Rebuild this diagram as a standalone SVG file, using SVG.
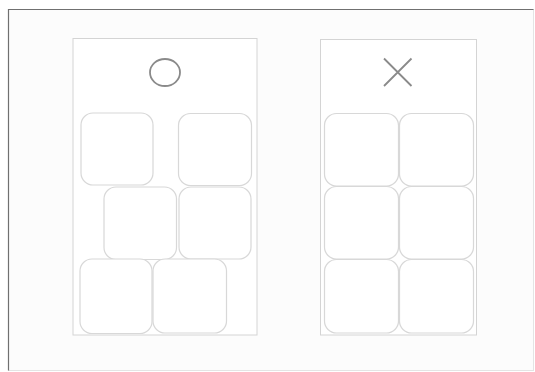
<svg xmlns="http://www.w3.org/2000/svg" width="535" height="372" viewBox="0 0 535 372">
<style>
.panel{fill:#ffffff;stroke:#d4d4d4;stroke-width:1}
.tile{fill:#ffffff;stroke:#d8d8d8;stroke-width:1.2}
.sym{fill:none;stroke:#8a8a8a;stroke-width:1.8}
</style>
<rect x="0" y="0" width="535" height="372" fill="#ffffff"/>
<g id="frame">
<rect x="8.5" y="9.5" width="525" height="361" fill="#fcfcfc" stroke="#e4e4e4" stroke-width="1"/>
<path d="M8.5 370.5 V9.5 H533.5" fill="none" stroke="#707070" stroke-width="1.2"/>
</g>
<g id="panel-o">
<rect class="panel" x="73" y="38.5" width="184" height="296.5"/>
<ellipse class="sym" cx="165" cy="72.5" rx="15" ry="13.5"/>
</g>
<g id="o-tiles">
<rect id="o1" class="tile" x="81" y="113" width="72" height="72" rx="12"/>
<rect id="o2" class="tile" x="178.5" y="113.5" width="73" height="72" rx="12"/>
<rect id="o3" class="tile" x="104" y="187" width="72.5" height="72.5" rx="12"/>
<rect id="o4" class="tile" x="179" y="187" width="72" height="72" rx="12"/>
<rect id="o5" class="tile" x="80" y="259" width="72" height="74.5" rx="12"/>
<rect id="o6" class="tile" x="153" y="259" width="73.5" height="74" rx="12"/>
</g>
<g id="panel-x">
<rect class="panel" x="320.5" y="39.5" width="156" height="295.5"/>
<path class="sym" d="M384 58.5 L411.5 86 M411.5 58.5 L384 86"/>
</g>
<g id="x-tiles">
<rect id="x1" class="tile" x="324.5" y="113.5" width="74" height="72.5" rx="12"/>
<rect id="x2" class="tile" x="399.5" y="113.5" width="74" height="72.5" rx="12"/>
<rect id="x3" class="tile" x="324.5" y="186.5" width="74" height="72.5" rx="12"/>
<rect id="x4" class="tile" x="399.5" y="186.5" width="74" height="72.5" rx="12"/>
<rect id="x5" class="tile" x="324.5" y="259.5" width="74" height="73.5" rx="12"/>
<rect id="x6" class="tile" x="399.5" y="259.5" width="74" height="73.5" rx="12"/>
</g>
<g id="connectors"></g>
</svg>
